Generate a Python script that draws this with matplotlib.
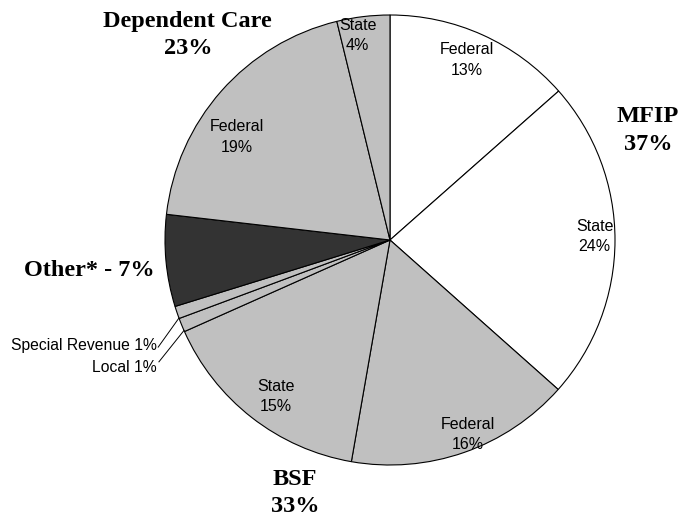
import numpy as np
import matplotlib.pyplot as plt

# slices clockwise from 12 o'clock, shares (percent)
slices = ["MFIP Federal", "MFIP State", "BSF Federal", "BSF State", "Local",
          "Special Revenue", "Other", "Dependent Care Federal", "Dependent Care State"]
shares = [13.5, 23.1, 16.2, 15.6, 1.0, 0.9, 6.6, 19.4, 3.8]
inner_labels = ["Federal\n13%", "State\n24%", "Federal\n16%", "State\n15%", "", "",
                "", "Federal\n19%", "State\n4%"]
group_labels = ["MFIP\n37%", "BSF\n33%", "Other* - 7%", "Dependent Care\n23%"]
small_labels = ["Special Revenue 1%", "Local 1%"]

colors = ["white", "white", "#c0c0c0", "#c0c0c0", "#c0c0c0", "#c0c0c0",
          "#333333", "#c0c0c0", "#c0c0c0"]

# label spots as (angle in degrees, radius as a fraction of the pie radius)
inner_pos = [(67, 0.87), (1, 0.91), (-68.2, 0.93), (-126, 0.86), None, None,
             None, (146, 0.82), (99, 0.92)]
group_pos = [(23, 1.245), (-110.6, 1.2), (-172.5, 1.053), (134.6, 1.28)]
group_ha = ["center", "center", "right", "center"]
small_pos = [(-155.7, 1.136), (-151.4, 1.18)]
small_slice = [5, 4]
leader_start = [(-155.2, 1.135), (-152.2, 1.161)]


def polar(angle, r):
    a = np.deg2rad(angle)
    return r * np.cos(a), r * np.sin(a)


fig = plt.figure(figsize=(6.81, 5.20), dpi=100)
ax = fig.add_axes([0, 0, 1, 1])

wedges, _ = ax.pie(shares, colors=colors, startangle=90, counterclock=False,
                   radius=1.0, wedgeprops=dict(edgecolor="black", linewidth=0.8))

ax.set_xlim(-390 / 225, 291 / 225)
ax.set_ylim(-280 / 225, 240 / 225)
ax.set_aspect("equal", adjustable="box")
ax.axis("off")

sans = ["Liberation Sans", "DejaVu Sans"]
serif = ["Liberation Serif", "DejaVu Serif"]

for text, pos in zip(inner_labels, inner_pos):
    if pos is None:
        continue
    x, y = polar(*pos)
    ax.text(x, y, text, ha="center", va="center", fontsize=11.5,
            family=sans, linespacing=1.45)

for text, pos, ha in zip(group_labels, group_pos, group_ha):
    x, y = polar(*pos)
    ax.text(x, y, text, ha=ha, va="center", fontsize=17.5, fontweight="bold",
            family=serif, linespacing=1.4)

for text, pos, idx, start in zip(small_labels, small_pos, small_slice, leader_start):
    x, y = polar(*pos)
    ax.text(x, y, text, ha="right", va="center", fontsize=11.3, family=sans)
    w = wedges[idx]
    mid = (w.theta1 + w.theta2) / 2
    x0, y0 = polar(*start)
    x1, y1 = polar(mid + 1.5, 1.0)
    ax.plot([x0, x1], [y0, y1], color="black", linewidth=0.7)

fig.savefig("out.png", dpi=100)
